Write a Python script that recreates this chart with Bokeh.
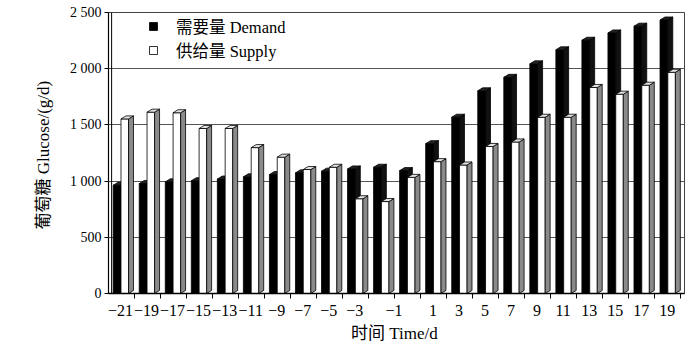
from bokeh.plotting import figure
from bokeh.models import ColumnDataSource, FixedTicker, Legend, LegendItem, Span, Range1d
from bokeh.embed import file_html
from bokeh.resources import INLINE

# ---- data ----
tick_labels = ["−21", "−19", "−17", "−15", "−13", "−11", "−9", "−7", "−5", "−3", "−1",
               "1", "3", "5", "7", "9", "11", "13", "15", "17", "19"]
demand = [990, 1005, 1020, 1030, 1045, 1065, 1085, 1100, 1115, 1135, 1150,
          1120, 1360, 1595, 1830, 1950, 2070, 2195, 2280, 2345, 2405, 2460]
supply = [1580, 1640, 1635, 1495, 1495, 1325, 1240, 1130, 1150, 870, 845,
          1060, 1200, 1170, 1335, 1375, 1595, 1595, 1860, 1800, 1880, 1995]
y_ticks = [0, 500, 1000, 1500, 2000, 2500]
y_tick_labels = ["0", "500", "1 000", "1 500", "2 000", "2 500"]

SERIF = "'Liberation Serif', 'Noto Sans CJK SC'"

n = len(demand)
cats = list(range(n))

# ---- layout constants for the pseudo-3D look ----
DX = 0.19      # depth offset in category units
DY = 27        # depth offset in value units
D0, D1 = -0.40, -0.10
S0, S1 = -0.10, 0.19
SHIFT = -0.12  # front floor edge offset for labels

p = figure(width=700, height=354, output_backend="svg", toolbar_location=None,
           x_range=Range1d(-0.58, 21.54), y_range=Range1d(0, 2500),
           min_border_left=108, min_border_right=16, min_border_top=12, min_border_bottom=61)
p.background_fill_color = "white"
p.border_fill_color = "white"
p.outline_line_color = "#444444"
p.outline_line_width = 1


def bar_parts(vals, x0, x1):
    front = dict(left=[c + x0 for c in cats], right=[c + x1 for c in cats],
                 top=[v - DY for v in vals], bottom=[0] * n)
    side_xs, side_ys, top_xs, top_ys = [], [], [], []
    for c, v in zip(cats, vals):
        a, b = c + x0, c + x1
        side_xs.append([b, b + DX, b + DX, b])
        side_ys.append([0, DY, v, v - DY])
        top_xs.append([a, b, b + DX, a + DX])
        top_ys.append([v - DY, v - DY, v, v])
    return front, dict(xs=side_xs, ys=side_ys), dict(xs=top_xs, ys=top_ys)


df, ds, dt = bar_parts(demand, D0, D1)
sf, ss, st = bar_parts(supply, S0, S1)

r_dem = p.quad(source=ColumnDataSource(df), left="left", right="right", top="top", bottom="bottom",
               fill_color="black", line_color="black", line_width=0.8)
p.patches(source=ColumnDataSource(ds), xs="xs", ys="ys", fill_color="#111111", line_color="black", line_width=0.8)
p.patches(source=ColumnDataSource(dt), xs="xs", ys="ys", fill_color="#222222", line_color="black", line_width=0.8)

r_sup = p.quad(source=ColumnDataSource(sf), left="left", right="right", top="top", bottom="bottom",
               fill_color="white", line_color="black", line_width=0.8)
p.patches(source=ColumnDataSource(ss), xs="xs", ys="ys", fill_color="#8a8a8a", line_color="black", line_width=0.8)
p.patches(source=ColumnDataSource(st), xs="xs", ys="ys", fill_color="#e2e2e2", line_color="black", line_width=0.8)

# inner wall line
p.add_layout(Span(location=-0.58 + 0.12, dimension="height", line_color="black", line_width=1))

# ---- axes ----
label_idx = list(range(10)) + [10.5] + list(range(12, 22))
label_pos = [round(k + SHIFT, 3) for k in label_idx]
minor_pos = [round(c + 0.5 + SHIFT + 0.02, 3) for c in cats]

xa = p.xaxis[0]
xa.ticker = FixedTicker(ticks=label_pos, minor_ticks=minor_pos)
xa.major_label_overrides = {pos: lab for pos, lab in zip(label_pos, tick_labels)}
xa.major_tick_line_color = None
xa.minor_tick_line_color = "black"
xa.minor_tick_in = 0
xa.minor_tick_out = 5
xa.axis_line_color = "black"
xa.axis_line_width = 1.5
xa.major_label_text_font = SERIF
xa.major_label_text_font_size = "16px"
xa.major_label_text_color = "black"
xa.major_label_standoff = 5
xa.axis_label = "时间  Time/d"
xa.axis_label_text_font = SERIF
xa.axis_label_text_font_size = "17px"
xa.axis_label_text_font_style = "normal"
xa.axis_label_text_color = "black"
xa.axis_label_standoff = 5

ya = p.yaxis[0]
ya.ticker = FixedTicker(ticks=y_ticks)
ya.major_label_overrides = {t: lab for t, lab in zip(y_ticks, y_tick_labels)}
ya.minor_tick_line_color = None
ya.major_tick_in = 0
ya.major_tick_out = 4
ya.major_tick_line_color = "black"
ya.axis_line_color = "black"
ya.axis_line_width = 1.2
ya.major_label_text_font = SERIF
ya.major_label_text_font_size = "14px"
ya.major_label_text_color = "black"
ya.major_label_standoff = 3
ya.axis_label = "葡萄糖  Glucose/(g/d)"
ya.axis_label_text_font = SERIF
ya.axis_label_text_font_size = "17px"
ya.axis_label_text_font_style = "normal"
ya.axis_label_text_color = "black"
ya.axis_label_standoff = 14

p.xgrid.grid_line_color = None
p.ygrid.grid_line_color = "#555555"
p.ygrid.grid_line_width = 1.2

legend = Legend(items=[LegendItem(label="需要量 Demand", renderers=[r_dem]),
                       LegendItem(label="供给量 Supply", renderers=[r_sup])],
                location=(40, 231), orientation="vertical",
                glyph_width=10, glyph_height=10, label_standoff=18, spacing=-2,
                padding=2, margin=0,
                label_text_font=SERIF, label_text_font_size="16.5px", label_text_color="black",
                border_line_color=None, background_fill_alpha=0)
p.add_layout(legend)

open("out.html", "w").write(file_html(p, INLINE))
